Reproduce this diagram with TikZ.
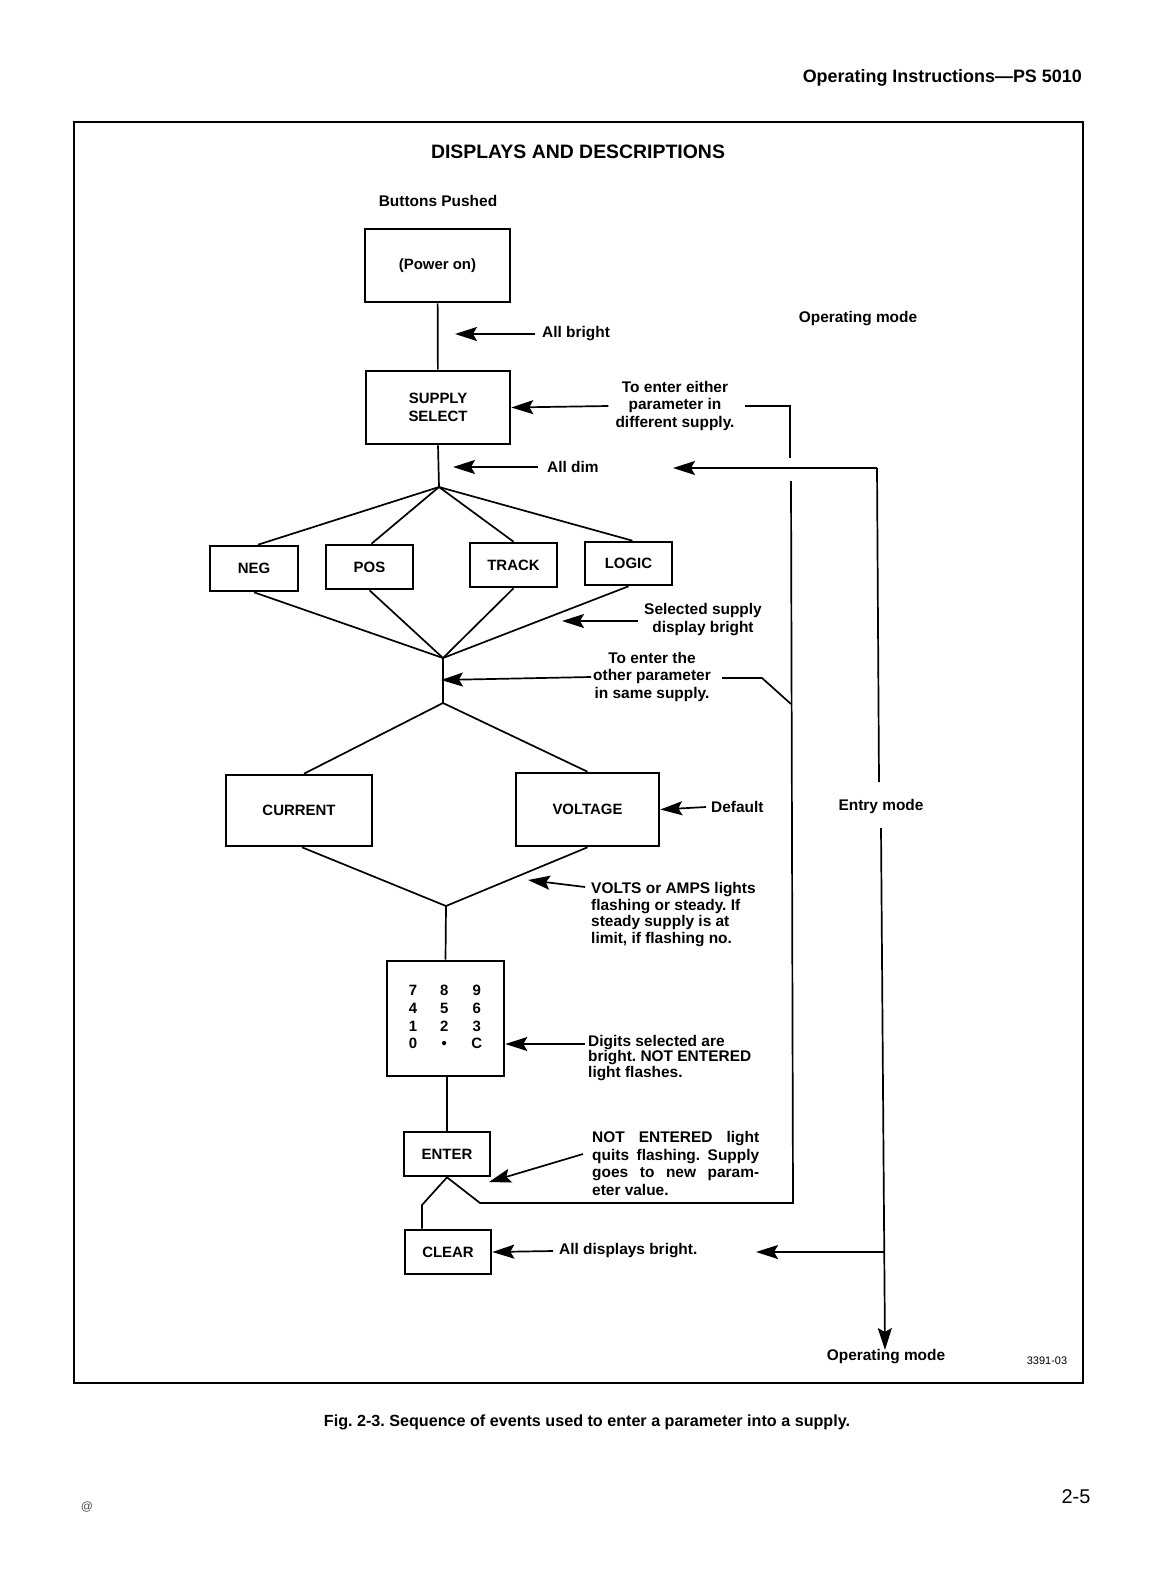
\documentclass[tikz,border=0pt]{standalone}
\usepackage{fontspec}
\setmainfont{Liberation Sans}
\usetikzlibrary{arrows.meta}
\newcommand{\lblfont}{\fontsize{15.5}{18}\selectfont\bfseries}
\newcommand{\boxfont}{\fontsize{15}{18}\selectfont\bfseries}
\frenchspacing
\begin{document}
\begin{tikzpicture}[x=1bp,y=-1bp,
  bx/.style 2 args={draw,line width=2.6bp,minimum width=#1,minimum height=#2,inner sep=0pt,font=\boxfont,align=center},
  ln/.style={line width=1.7bp},
  arr/.style={line width=1.7bp,-{Stealth[length=22bp,width=14bp,inset=4bp]}},
  lbl/.style={inner sep=0pt,font=\lblfont}
]
\useasboundingbox (0,0) rectangle (1164,1574);
% frame
\draw[line width=2.6bp] (74,122) rectangle (1083,1383);
% header and titles
\node[lbl,anchor=east,font=\fontsize{18}{21}\selectfont\bfseries] (hdr) at (1082,78) {Operating Instructions---PS 5010};
\node[lbl,font=\fontsize{19.5}{22}\selectfont\bfseries] (ttl) at (578,152) {DISPLAYS AND DESCRIPTIONS};
\node[lbl] (bp) at (438,201) {Buttons Pushed};
\node[lbl] (opm1) at (858,319) {Operating mode};
\node[lbl] (entry) at (881,806) {Entry mode};
\node[lbl] (opm2) at (886,1357) {Operating mode};
\node[inner sep=0pt,font=\fontsize{11}{13}\selectfont] (fid) at (1047,1361) {3391-03};
\node[lbl,font=\fontsize{16.2}{19}\selectfont\bfseries] (cap) at (587,1422) {Fig. 2-3. Sequence of events used to enter a parameter into a supply.};
\node[inner sep=0pt,font=\fontsize{20}{24}\selectfont] (pg) at (1076,1497) {2-5};
\node[inner sep=0pt,font=\fontsize{12}{14}\selectfont,text=black!70] (at) at (87,1507) {@};

% boxes
\node[bx={145bp}{73bp}] (pw) at (437.5,265.5) {(Power on)};
\node[bx={144bp}{73bp}] (ss) at (438,407.5) {SUPPLY\\SELECT};
\node[bx={88bp}{45bp}] (neg) at (254,568.5) {NEG};
\node[bx={87bp}{44bp}] (pos) at (369.5,567) {POS};
\node[bx={87bp}{44bp}] (trk) at (513.5,565) {TRACK};
\node[bx={87bp}{43bp}] (lgc) at (628.5,563.5) {LOGIC};
\node[bx={146bp}{71bp}] (cur) at (299,810.5) {CURRENT};
\node[bx={143bp}{73bp}] (vol) at (587.5,809.5) {VOLTAGE};
\node[bx={117bp}{115bp}] (kp) at (445.5,1018.5) {\begin{tabular}{@{}c@{\hskip 23bp}c@{\hskip 23bp}c@{}}7&8&9\\4&5&6\\1&2&3\\0&\textbullet&C\end{tabular}};
\node[bx={86bp}{44bp}] (ent) at (447,1154) {ENTER};
\node[bx={86bp}{44bp}] (clr) at (448,1252) {CLEAR};

% junctions
\coordinate (j1) at (439,487);
\coordinate (j2) at (443,658);
\coordinate (j3) at (443,703);
\coordinate (j4) at (446,906);
\coordinate (c1) at (422,1205);

% main flow
\draw[ln] (pw) -- (ss);
\draw[ln] (ss.south) -- (j1);
\draw[ln] (j1) -- ([xshift=4bp]neg.north);
\draw[ln] (j1) -- ([xshift=2bp]pos.north);
\draw[ln] (j1) -- (trk.north);
\draw[ln] (j1) -- ([xshift=4bp]lgc.north);
\draw[ln] (neg.south) -- (j2);
\draw[ln] (pos.south) -- (j2);
\draw[ln] (trk.south) -- (j2);
\draw[ln] (lgc.south) -- (j2);
\draw[ln] (j2) -- (j3);
\draw[ln] (j3) -- ([xshift=5bp]cur.north);
\draw[ln] (j3) -- (vol.north);
\draw[ln] ([xshift=3bp]cur.south) -- (j4);
\draw[ln] (vol.south) -- (j4);
\draw[ln] (j4) -- (kp.north);
\draw[ln] (kp.south -| ent.north) -- (ent.north);
\draw[ln] (ent.south) -- (c1) -- (c1 |- clr.north);

% labels
\node[lbl,anchor=west] (allbright) at (542,334) {All bright};
\node[lbl,align=center] (toeither) at (675,406) {To enter either\\parameter in\\different supply.};
\node[lbl,anchor=west] (alldim) at (547,467) {All dim};
\node[lbl,align=center] (selsup) at (703,620) {Selected supply\\display bright};
\node[lbl,align=center] (tother) at (652,677) {To enter the\\other parameter\\in same supply.};
\node[lbl,anchor=west] (default) at (711,807) {Default};
\node[lbl,anchor=west,align=left,font=\fontsize{15.5}{16.5}\selectfont\bfseries] (volts) at (591,914.5) {VOLTS or AMPS lights\\flashing or steady. If\\steady supply is at\\limit, if flashing no.};
\node[lbl,anchor=west,align=left,font=\fontsize{15.5}{16}\selectfont\bfseries] (digits) at (588,1058) {Digits selected are\\bright. NOT ENTERED\\light flashes.};
\node[lbl,anchor=west,align=left,font=\fontsize{15.5}{17.7}\selectfont\bfseries] (notent) at (592,1163.5) {\makebox[167bp][s]{NOT ENTERED light}\\\makebox[167bp][s]{quits flashing. Supply}\\\makebox[167bp][s]{goes to new param-}\\eter value.};
\node[lbl,anchor=west] (alldisp) at (559,1251) {All displays bright.};

% tips on lines
\coordinate (t1) at (455,334);
\coordinate (t2) at (453,467);
\coordinate (t3) at (562,621);
\coordinate (t4) at (441,680);
\coordinate (t5) at (528,880);
\coordinate (t6) at (489,1182);

% label arrows
\draw[arr] ([xshift=-7bp]allbright.west) -- (t1);
\draw[arr] ([xshift=-7bp]toeither.west) -- (ss.east);
\draw[arr] ([xshift=-9bp]alldim.west) -- (t2);
\draw[arr] ([xshift=-6bp]selsup.west |- t3) -- (t3);
\draw[arr] ([xshift=-2bp]tother.west) -- (t4);
\draw[arr] ([xshift=-5bp]default.west) -- (vol.east);
\draw[arr] (585,887) -- (t5);
\draw[arr] ([xshift=-3bp]digits.west |- 0,1044) coordinate (d0) -- (d0 -| kp.east) ;
\draw[arr] (583,1154) -- (t6);
\draw[arr] ([xshift=-6bp]alldisp.west) -- (clr.east);

% return loop (entry mode)
\coordinate (lpA) at (480,1203);
\coordinate (lpB) at (793,1203);
\coordinate (lpC) at (791,481);
\coordinate (lpD) at (790,458);
\coordinate (lpE) at (790,406);
\coordinate (lpF) at (745,406);
\coordinate (lpG) at (791,704);
\coordinate (lpH) at (762,678);
\coordinate (lpI) at (722,678);
\draw[ln] (ent.south) -- (lpA) -- (lpB) -- (lpC);
\draw[ln] (lpD) -- (lpE) -- (lpF);
\draw[ln] (lpG) -- (lpH) -- (lpI);

% operating mode line
\coordinate (e1) at (877,468);
\coordinate (e0) at (673,468);
\coordinate (e2) at (879,782);
\coordinate (e3) at (881,828);
\coordinate (e4) at (885,1350);
\coordinate (e5) at (884,1252);
\coordinate (e6) at (756,1252);
\draw[arr] (e1) -- (e0);
\draw[ln] (e1) -- (e2);
\draw[arr] (e3) -- (e4);
\draw[arr] (e5) -- (e6);
\end{tikzpicture}
\end{document}
